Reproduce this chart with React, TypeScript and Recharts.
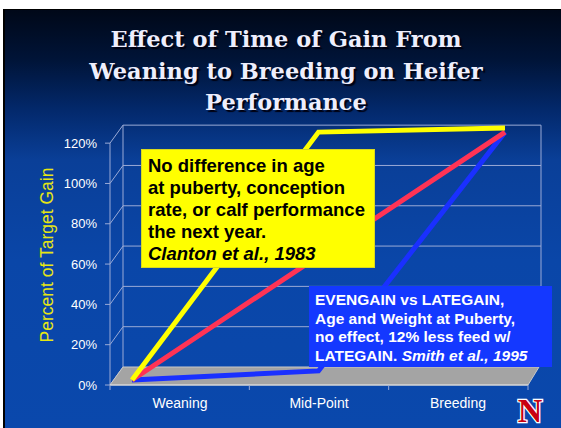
import React from 'react';
import { LineChart, Line, XAxis, YAxis, ReferenceArea } from 'recharts';

// stages along the x axis
const stages = ['Weaning', 'Mid-Point', 'Breeding'];
// percent of target gain at each stage
const earlyGain = [0, 123, 125]; // yellow
const evenGain = [0, 61.5, 123]; // red
const lateGain = [0, 4.5, 123]; // blue
const yTicks = [0, 20, 40, 60, 80, 100, 120];

const data = stages.map((stage, i) => ({
  stage,
  early: earlyGain[i],
  even: evenGain[i],
  late: lateGain[i],
}));

// fake 3D depth of the plot box
const DX = 13;
const DY = 18;
const FRONT = 5;
const frameColor = '#9aaad6';
const sans = '"Liberation Sans", Arial, sans-serif';

const Frame = (props: any) => {
  const { x, y, width, height } = props;
  const top = yTicks[yTicks.length - 1];
  const rows = yTicks.map((t) => y + height * (1 - t / top));
  const y0 = y + height;
  const fl = y0 + FRONT;
  const bk = y0 + FRONT - DY;
  const yTop = y;
  const cats = stages.concat('').map((_, k) => x + (width * k) / stages.length);
  return (
    <g>
      {rows.map((r, i) => (
        <g key={i}>
          <line x1={x} y1={r + FRONT} x2={x + DX} y2={r + FRONT - DY} stroke={frameColor} strokeWidth={1} />
          {i > 0 && (
            <line x1={x + DX} y1={r + FRONT - DY} x2={x + width + DX} y2={r + FRONT - DY} stroke={frameColor} strokeWidth={1} />
          )}
        </g>
      ))}
      <line x1={x + DX} y1={yTop + FRONT - DY} x2={x + DX} y2={bk} stroke={frameColor} />
      <line x1={x + width + DX} y1={yTop + FRONT - DY} x2={x + width + DX} y2={bk} stroke={frameColor} />
      <line x1={x} y1={yTop + FRONT} x2={x} y2={fl} stroke={frameColor} />
      <polygon
        points={`${x},${fl} ${x + width},${fl} ${x + width + DX - 2},${bk} ${x + DX},${bk}`}
        fill="#a4a4a4"
        stroke="#c8c8c8"
        strokeWidth={1}
      />
      <line x1={x} y1={fl} x2={x + width} y2={fl} stroke="#e0e0e0" strokeWidth={1.2} />
      {cats.map((cx, i) => (
        <line key={i} x1={cx} y1={fl} x2={cx} y2={fl + 5} stroke={frameColor} />
      ))}
    </g>
  );
};

const YTick = (props: any) => {
  const { y, payload } = props;
  return (
    <g>
      <line x1={105} y1={y + FRONT} x2={110} y2={y + FRONT} stroke={frameColor} />
      <text x={97} y={y + FRONT} dy={4.5} textAnchor="end" fill="#ffffff" fontSize={13} fontFamily={sans}>
        {payload.value}%
      </text>
    </g>
  );
};

const YLabel = (props: any) => {
  const vb = props.viewBox || {};
  const cx = 47;
  const cy = (vb.y || 0) + (vb.height || 0) / 2 + 6;
  return (
    <text
      x={cx}
      y={cy}
      transform={`rotate(-90 ${cx} ${cy})`}
      textAnchor="middle"
      dominantBaseline="central"
      fill="#e6e614"
      fontSize={17.5}
      fontFamily={sans}
    >
      Percent of Target Gain
    </text>
  );
};

export default function App() {
  return (
    <div style={{ position: 'absolute', left: 0, top: 0, width: 561, height: 428, background: '#fff', overflow: 'hidden' }}>
      <div
        style={{
          position: 'absolute',
          left: 3,
          top: 9,
          right: 0,
          bottom: 0,
          borderLeft: '2px solid #000',
          borderTop: '1px solid #000',
          background: 'linear-gradient(180deg, #000818 0%, #001438 12%, #03296c 24%, #0a3f98 36%, #0a46a8 60%, #0a48ac 100%)',
        }}
      />
      <div
        style={{
          position: 'absolute',
          left: 0,
          top: 24,
          width: 572,
          textAlign: 'center',
          fontFamily: '"DejaVu Serif", serif',
          fontWeight: 'bold',
          fontSize: 22.5,
          lineHeight: '31.5px',
          color: '#eeeefc',
          textShadow: '2px 2px 1px #000010',
        }}
      >
        Effect of Time of Gain From
        <br />
        Weaning to Breeding on Heifer
        <br />
        Performance
      </div>
      <div style={{ position: 'absolute', left: 0, top: 0 }}>
        <LineChart width={561} height={428} data={data} margin={{ top: 118, right: 33, bottom: 18, left: 0 }}>
          <XAxis
            xAxisId="a-lab"
            dataKey="stage"
            padding={{ left: 70, right: 70 }}
            axisLine={false}
            tickLine={false}
            tickMargin={12}
            height={30}
            tick={{ fill: '#ffffff', fontSize: 14, fontFamily: sans }}
          />
          <XAxis xAxisId="pts" dataKey="stage" hide height={0} padding={{ left: 22, right: 23 }} />
          <XAxis xAxisId="wall" dataKey="stage" hide height={0} />
          <YAxis
            domain={[0, 130]}
            ticks={yTicks}
            width={110}
            axisLine={false}
            tickLine={false}
            tick={<YTick />}
            label={<YLabel />}
          />
          <ReferenceArea xAxisId="wall" y1={0} y2={120} shape={<Frame />} />
          <Line xAxisId="pts" dataKey="late" stroke="#1a30ff" strokeWidth={5} dot={false} isAnimationActive={false} />
          <Line xAxisId="pts" dataKey="even" stroke="#ff3355" strokeWidth={5} dot={false} isAnimationActive={false} />
          <Line xAxisId="pts" dataKey="early" stroke="#ffff00" strokeWidth={5} dot={false} isAnimationActive={false} />
        </LineChart>
      </div>
      <div
        style={{
          position: 'absolute',
          left: 141,
          top: 149,
          width: 234,
          height: 119,
          boxSizing: 'border-box',
          background: '#ffff00',
          border: '1px solid #d8d820',
          padding: '5px 0 0 6px',
          fontFamily: sans,
          fontWeight: 'bold',
          fontSize: 18.5,
          lineHeight: '22px',
          color: '#000',
          whiteSpace: 'nowrap',
        }}
      >
        No difference in age
        <br />
        at puberty, conception
        <br />
        rate, or calf performance
        <br />
        the next year.
        <br />
        <i>Clanton et al., 1983</i>
      </div>
      <div
        style={{
          position: 'absolute',
          left: 309,
          top: 286,
          width: 243,
          height: 81,
          boxSizing: 'border-box',
          background: '#1438ff',
          padding: '5px 0 0 6px',
          fontFamily: sans,
          fontWeight: 'bold',
          fontSize: 15.5,
          lineHeight: '18.5px',
          color: '#fff',
          whiteSpace: 'nowrap',
        }}
      >
        EVENGAIN vs LATEGAIN,
        <br />
        Age and Weight at Puberty,
        <br />
        no effect, 12% less feed w/
        <br />
        LATEGAIN. <i>Smith et al., 1995</i>
      </div>
      <svg style={{ position: 'absolute', left: 506, top: 390 }} width={48} height={38}>
        <text
          x={24}
          y={32}
          textAnchor="middle"
          fontFamily='"Liberation Serif", serif'
          fontWeight="bold"
          fontSize={34}
          fill="#c80010"
          stroke="#ffffff"
          strokeWidth={2.5}
          paintOrder="stroke"
        >
          N
        </text>
      </svg>
    </div>
  );
}
